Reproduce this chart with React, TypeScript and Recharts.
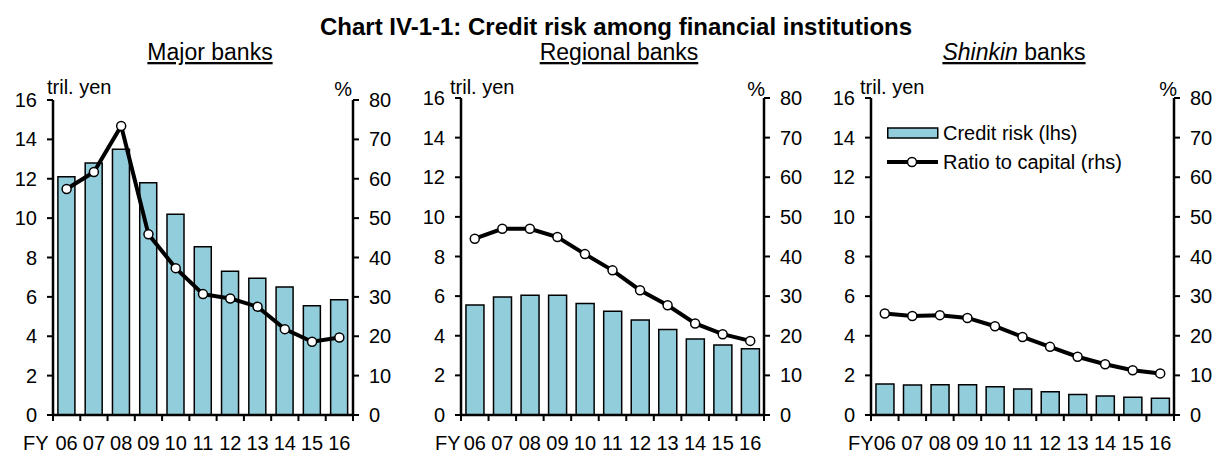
import React from 'react';
import { ComposedChart, Bar, Line, XAxis, YAxis, Legend } from 'recharts';

const YEARS = ['06', '07', '08', '09', '10', '11', '12', '13', '14', '15', '16'];

const majorRisk = [12.1, 12.8, 13.5, 11.8, 10.2, 8.55, 7.3, 6.95, 6.5, 5.55, 5.85];
const majorRatio = [57.4, 61.7, 73.4, 45.9, 37.3, 30.7, 29.6, 27.5, 21.8, 18.6, 19.7];

const regionalRisk = [5.55, 5.96, 6.05, 6.05, 5.63, 5.24, 4.79, 4.32, 3.83, 3.53, 3.34];
const regionalRatio = [44.5, 47.0, 47.0, 44.9, 40.6, 36.5, 31.5, 27.7, 23.1, 20.4, 18.7];

const shinkinRisk = [1.56, 1.51, 1.53, 1.53, 1.43, 1.31, 1.17, 1.04, 0.96, 0.89, 0.84];
const shinkinRatio = [25.6, 25.0, 25.2, 24.5, 22.4, 19.7, 17.2, 14.7, 12.8, 11.3, 10.5];

const LEFT_TICKS = [0, 2, 4, 6, 8, 10, 12, 14, 16];
const RIGHT_TICKS = [0, 10, 20, 30, 40, 50, 60, 70, 80];

const FONT = '"Liberation Sans", Arial, sans-serif';
const BAR_FILL = '#92CDDC';
const CHART_H = 453;
const PLOT_BOTTOM = 415;

// x ticks sit between the categories, so draw them by hand
const XTick = (props: any) => {
  const { x, payload, index, band, count } = props;
  return (
    <g>
      <line x1={x - band / 2} x2={x - band / 2} y1={PLOT_BOTTOM} y2={PLOT_BOTTOM + 6} stroke="#000" strokeWidth={2} />
      {index === count - 1 && (
        <line x1={x + band / 2} x2={x + band / 2} y1={PLOT_BOTTOM} y2={PLOT_BOTTOM + 6} stroke="#000" strokeWidth={2} />
      )}
      <text x={x} y={450} textAnchor="middle" fontSize={20} fill="#000">
        {payload.value}
      </text>
    </g>
  );
};

const LegendBox = () => (
  <svg width={300} height={60} style={{ fontFamily: FONT, overflow: 'visible' }}>
    <rect x={0.75} y={10} width={50} height={10} fill={BAR_FILL} stroke="#000" strokeWidth={1.5} />
    <text x={56} y={22} fontSize={20} fill="#000">Credit risk (lhs)</text>
    <line x1={0} x2={51} y1={44} y2={44} stroke="#000" strokeWidth={4} />
    <circle cx={25} cy={44} r={4.5} fill="#fff" stroke="#000" strokeWidth={1.5} />
    <text x={56} y={51} fontSize={20} fill="#000">Ratio to capital (rhs)</text>
  </svg>
);

interface PanelProps {
  risk: number[];
  ratio: number[];
  left: number;
  width: number;
  top: number;
  right: number;
  rightAxisWidth: number;
  showLegend?: boolean;
}

const Panel: React.FC<PanelProps> = ({ risk, ratio, left, width, top, right, rightAxisWidth, showLegend }) => {
  const data = YEARS.map((year, i) => ({ year, risk: risk[i], ratio: ratio[i] }));
  const plotWidth = width - 8 - 45 - right - rightAxisWidth;
  const band = plotWidth / YEARS.length;

  return (
    <div style={{ position: 'absolute', left, top: 0 }}>
      <ComposedChart
        width={width}
        height={CHART_H}
        data={data}
        margin={{ top, right, bottom: 8, left: 8 }}
        barCategoryGap="18%"
      >
        <XAxis
          dataKey="year"
          height={30}
          interval={0}
          axisLine={{ stroke: '#000', strokeWidth: 2.5 }}
          tickLine={false}
          tickSize={6}
          tick={<XTick band={band} count={YEARS.length} />}
        />
        <YAxis
          yAxisId="left"
          width={45}
          domain={[0, 16]}
          ticks={LEFT_TICKS}
          interval={0}
          axisLine={{ stroke: '#000', strokeWidth: 2.5 }}
          tickLine={{ stroke: '#000', strokeWidth: 2 }}
          tickSize={6}
          tickMargin={10}
          tick={{ fontSize: 20, fill: '#000' }}
        />
        <YAxis
          yAxisId="right"
          orientation="right"
          width={rightAxisWidth}
          domain={[0, 80]}
          ticks={RIGHT_TICKS}
          interval={0}
          axisLine={{ stroke: '#000', strokeWidth: 2.5 }}
          tickLine={{ stroke: '#000', strokeWidth: 2 }}
          tickSize={6}
          tickMargin={10}
          tick={{ fontSize: 20, fill: '#000' }}
        />
        {showLegend && (
          <Legend
            layout="vertical"
            verticalAlign="middle"
            align="center"
            content={() => <LegendBox />}
            wrapperStyle={{ left: 69, top: 118, width: 300, height: 60 }}
          />
        )}
        <Bar
          yAxisId="left"
          dataKey="risk"
          name="Credit risk (lhs)"
          fill={BAR_FILL}
          stroke="#000"
          strokeWidth={1.5}
          isAnimationActive={false}
        />
        <Line
          yAxisId="right"
          dataKey="ratio"
          name="Ratio to capital (rhs)"
          type="linear"
          stroke="#000"
          strokeWidth={4}
          dot={{ r: 4.5, fill: '#fff', stroke: '#000', strokeWidth: 1.5 }}
          isAnimationActive={false}
        />
      </ComposedChart>
    </div>
  );
};

const App: React.FC = () => {
  return (
    <div
      style={{
        position: 'absolute',
        left: 0,
        top: 0,
        width: 1217,
        height: 453,
        overflow: 'hidden',
        background: '#fff',
        fontFamily: FONT,
      }}
    >
      <Panel risk={majorRisk} ratio={majorRatio} left={0} width={405} top={100} right={7} rightAxisWidth={45} />
      <Panel risk={regionalRisk} ratio={regionalRatio} left={408} width={408} top={98} right={7} rightAxisWidth={45} />
      <Panel risk={shinkinRisk} ratio={shinkinRatio} left={818} width={399} top={98} right={0} rightAxisWidth={43} showLegend />

      <svg
        width={1217}
        height={453}
        style={{ position: 'absolute', left: 0, top: 0, pointerEvents: 'none', fontFamily: FONT }}
      >
        <text x={616} y={35} textAnchor="middle" fontSize={24} fontWeight="bold" fill="#000">
          Chart IV-1-1: Credit risk among financial institutions
        </text>
        <text x={210} y={60} textAnchor="middle" fontSize={23} fill="#000" style={{ textDecoration: 'underline' }}>
          Major banks
        </text>
        <text x={619} y={60} textAnchor="middle" fontSize={23} fill="#000" style={{ textDecoration: 'underline' }}>
          Regional banks
        </text>
        <text x={1014} y={60} textAnchor="middle" fontSize={23} fill="#000" style={{ textDecoration: 'underline' }}>
          <tspan fontStyle="italic">Shinkin</tspan> banks
        </text>

        <text x={47} y={94} fontSize={20} fill="#000">tril. yen</text>
        <text x={352} y={96} textAnchor="end" fontSize={20} fill="#000">%</text>
        <text x={450} y={94} fontSize={20} fill="#000">tril. yen</text>
        <text x={765} y={96} textAnchor="end" fontSize={20} fill="#000">%</text>
        <text x={860} y={94} fontSize={20} fill="#000">tril. yen</text>
        <text x={1177} y={96} textAnchor="end" fontSize={20} fill="#000">%</text>

        <text x={23} y={450} fontSize={20} fill="#000">FY</text>
        <text x={435} y={450} fontSize={20} fill="#000">FY</text>
        <text x={848} y={450} fontSize={20} fill="#000">FY</text>
      </svg>
    </div>
  );
};

export default App;
